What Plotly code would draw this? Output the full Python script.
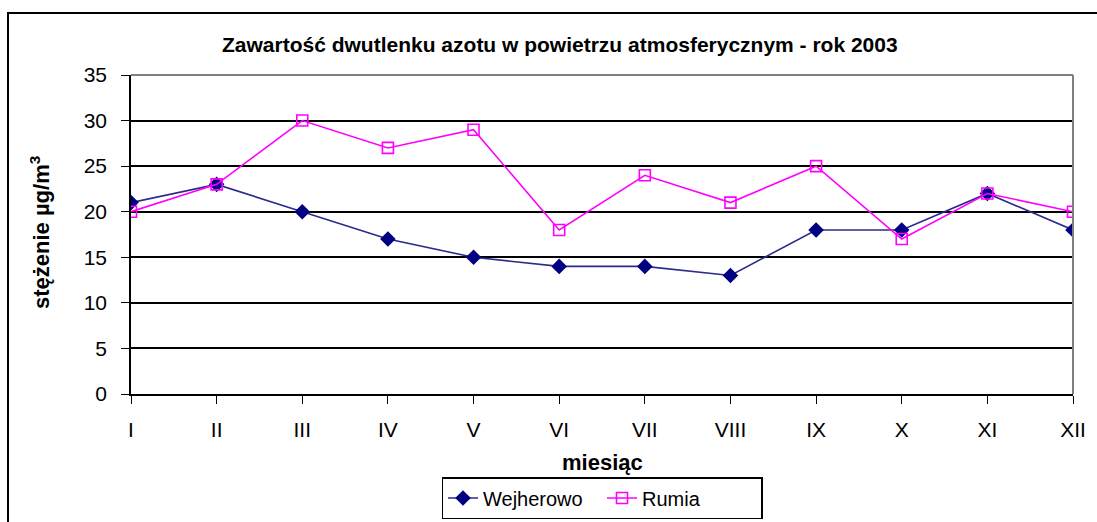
import plotly.graph_objects as go

months = ["I", "II", "III", "IV", "V", "VI", "VII", "VIII", "IX", "X", "XI", "XII"]
wejherowo = [21, 23, 20, 17, 15, 14, 14, 13, 18, 18, 22, 18]
rumia = [20, 23, 30, 27, 29, 18, 24, 21, 25, 17, 22, 20]
y_ticks = [0, 5, 10, 15, 20, 25, 30, 35]

FONT = "Liberation Sans, Arial, sans-serif"

fig = go.Figure()
fig.add_trace(go.Scatter(
    x=months, y=wejherowo, name="Wejherowo", mode="lines+markers",
    line=dict(color="#2B2B8C", width=1.6),
    marker=dict(symbol="diamond", size=12, color="#000080", line=dict(width=0)),
))
fig.add_trace(go.Scatter(
    x=months, y=rumia, name="Rumia", mode="lines+markers",
    line=dict(color="#FF00FF", width=1.6),
    marker=dict(symbol="square-open", size=11, color="#FF00FF", line=dict(width=1.6)),
))

fig.update_layout(
    width=1097, height=522,
    margin=dict(l=131, r=24, t=75, b=128, autoexpand=False),
    paper_bgcolor="white", plot_bgcolor="white",
    font=dict(family=FONT, color="black", size=21),
    showlegend=True,
    legend=dict(orientation="h", x=0.5, xanchor="center", y=(394 - 477) / 319, yanchor="top",
                bordercolor="black", borderwidth=1.5, font=dict(size=20, family=FONT),
                tracegroupgap=0, entrywidth=114, entrywidthmode="pixels"),
    xaxis=dict(
        type="category", range=[0, 11], showgrid=False,
        showline=True, linecolor="black", linewidth=1.5,
        ticks="outside", ticklen=8, tickcolor="black", tickwidth=1.2,
        ticklabelstandoff=8, tickfont=dict(size=21),
        zeroline=False,
    ),
    yaxis=dict(
        range=[0, 35], tickvals=y_ticks, showgrid=True, gridcolor="black", gridwidth=1.6,
        showline=True, linecolor="black", linewidth=1.5,
        ticks="outside", ticklen=8, tickcolor="black", tickwidth=1.2,
        ticklabelstandoff=10, tickfont=dict(size=21), zeroline=False,
    ),
    annotations=[
        dict(text="<b>Zawartość dwutlenku azotu w powietrzu atmosferycznym - rok 2003</b>",
             xref="paper", yref="paper", x=(560 - 131) / 942, y=(394 - 45) / 319,
             xanchor="center", yanchor="middle", showarrow=False, font=dict(size=21)),
        dict(text="<b>stężenie µg/m<sup>3</sup></b>",
             xref="paper", yref="paper", x=(40 - 131) / 942, y=(394 - 233) / 319,
             xanchor="center", yanchor="middle", showarrow=False, textangle=-90,
             font=dict(size=22)),
        dict(text="<b>miesiąc</b>",
             xref="paper", yref="paper", x=0.5, y=(394 - 462) / 319,
             xanchor="center", yanchor="middle", showarrow=False, font=dict(size=22)),
    ],
    shapes=[
        dict(type="line", xref="paper", yref="paper", x0=0, x1=1, y0=1, y1=1,
             line=dict(color="#808080", width=2), layer="above"),
        dict(type="line", xref="paper", yref="paper", x0=1, x1=1, y0=0, y1=1,
             line=dict(color="#808080", width=2), layer="above"),
        dict(type="rect", xref="paper", yref="paper",
             x0=(8 - 131) / 942, x1=1.2, y0=-0.6, y1=(394 - 13) / 319,
             line=dict(color="black", width=2), layer="below"),
    ],
)

fig.write_html("out.html", config={"displayModeBar": False},
               post_script="document.body.style.margin='0';")
